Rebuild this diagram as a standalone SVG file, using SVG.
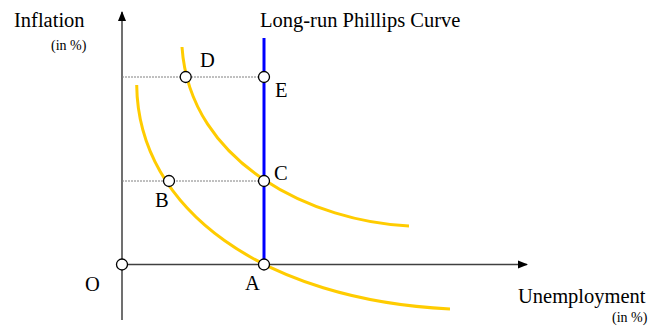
<svg xmlns="http://www.w3.org/2000/svg" width="649" height="327" viewBox="0 0 649 327">
<defs>
<marker id="arr" markerWidth="12" markerHeight="12" refX="9" refY="5" orient="auto" markerUnits="userSpaceOnUse">
<path d="M0,1 L10,5 L0,9 Z" fill="#000"/>
</marker>
<style>
.ax{stroke:#404040;stroke-width:1.5;fill:none}
.dash{stroke:#808080;stroke-width:1;stroke-dasharray:2,1;fill:none}
.curve{stroke:#FFCC00;stroke-width:3;fill:none}
.lr{stroke:#0000FF;stroke-width:3;fill:none}
.pt{fill:#fff;stroke:#000;stroke-width:1.3}
text{font-family:"Liberation Serif","Times New Roman",serif;fill:#000}
.lbl{font-size:20.5px}
.sm{font-size:14px}
</style>
</defs>
<rect width="649" height="327" fill="#fff"/>
<g id="connectors">
<line class="ax" x1="122" y1="320" x2="122" y2="12" marker-end="url(#arr)"/>
<line class="ax" x1="122" y1="264.5" x2="527" y2="264.5" marker-end="url(#arr)"/>
<line class="dash" x1="122" y1="77" x2="264" y2="77"/>
<line class="dash" x1="122" y1="181" x2="264" y2="181"/>
<path id="spc-high" class="curve" d="M182,47 C190,165 315,222 409,226"/>
<path id="spc-low" class="curve" d="M136.7,85 C138,210 265,300 450,309"/>
<line id="lrpc" class="lr" x1="264" y1="38" x2="264" y2="264"/>
</g>
<g id="node-O"><circle class="pt" cx="122" cy="264.5" r="5.5"/><text class="lbl" x="85" y="291">O</text></g>
<g id="node-A"><circle class="pt" cx="264" cy="264.5" r="5.5"/><text class="lbl" x="245" y="290">A</text></g>
<g id="node-B"><circle class="pt" cx="169" cy="181" r="5.5"/><text class="lbl" x="155" y="207">B</text></g>
<g id="node-C"><circle class="pt" cx="264" cy="181" r="5.5"/><text class="lbl" x="274" y="180">C</text></g>
<g id="node-D"><circle class="pt" cx="185.7" cy="77" r="5.5"/><text class="lbl" x="200" y="67">D</text></g>
<g id="node-E"><circle class="pt" cx="264" cy="77" r="5.5"/><text class="lbl" x="275" y="97">E</text></g>
<g id="labels">
<text class="lbl" x="14" y="27">Inflation</text>
<text class="sm" x="51" y="50">(in %)</text>
<text class="lbl" x="260" y="27">Long-run Phillips Curve</text>
<text class="lbl" x="518" y="303">Unemployment</text>
<text class="sm" x="612" y="322">(in %)</text>
</g>
</svg>
